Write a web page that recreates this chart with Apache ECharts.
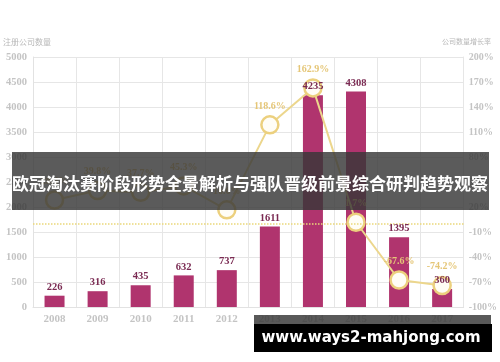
<!DOCTYPE html>
<html><head><meta charset="utf-8">
<script src="https://cdn.jsdelivr.net/npm/echarts@6/dist/echarts.min.js"></script>
<style>html,body{margin:0;padding:0;background:#fff}#c{width:500px;height:362px}</style>
</head><body><div id="c"></div>
<script>
const years = ['2008','2009','2010','2011','2012','2013','2014','2015','2016','2017'];
const companyCounts = [226, 316, 435, 632, 737, 1611, 4235, 4308, 1395, 360];
const growthRates = [28.4, 39.8, 37.7, 45.3, 16.6, 118.6, 162.9, 1.7, -67.6, -74.2];
const leftTitle = '注册公司数量';
const rightTitle = '公司数量增长率';
const bannerText = '欧冠淘汰赛阶段形势全景解析与强队晋级前景综合研判趋势观察';
const watermark = 'www.ways2-mahjong.com';

const chart = echarts.init(document.getElementById('c'));
const serif = 'Liberation Serif';
const barLabel = {show: true, position: 'top', distance: 3, color: '#7a2a52', fontFamily: serif, fontSize: 10.5, fontWeight: 'bold'};
chart.setOption({
  animation: false,
  backgroundColor: '#fff',
  grid: {left: 33, right: 36, top: 57, bottom: 55},
  xAxis: {
    type: 'category', data: years,
    axisLine: {lineStyle: {color: '#e2e2e2'}},
    axisTick: {show: false},
    axisLabel: {color: '#c4c4c4', fontFamily: serif, fontSize: 11, fontWeight: 'bold', margin: 7},
    splitLine: {show: true, lineStyle: {color: '#e6e6e6'}}
  },
  yAxis: [{
    type: 'value', min: 0, max: 5000, interval: 500,
    axisLine: {show: true, lineStyle: {color: '#e2e2e2'}},
    axisTick: {show: false},
    axisLabel: {color: '#c4c4c4', fontFamily: serif, fontSize: 10.5, fontWeight: 'bold', margin: 6, formatter: v => String(v)},
    splitLine: {lineStyle: {color: '#e6e6e6'}}
  }, {
    type: 'value', min: -100, max: 200, interval: 30,
    axisLine: {show: true, lineStyle: {color: '#e6e6e6'}},
    axisTick: {show: false},
    axisLabel: {color: '#c4c4c4', fontFamily: serif, fontSize: 10, fontWeight: 'bold', margin: 5, formatter: '{value}%'},
    splitLine: {show: false}
  }],
  series: [{
    type: 'bar', data: companyCounts, barWidth: 20,
    itemStyle: {color: '#b0346e'},
    z: 2
  }, {
    type: 'line', yAxisIndex: 1, data: growthRates,
    symbol: 'circle', symbolSize: 17,
    lineStyle: {color: '#ecd68c', width: 2},
    itemStyle: {color: '#fffdf6', borderColor: '#ecd07e', borderWidth: 2.5},
    label: {show: true, position: 'top', distance: 4, color: '#e5c677', fontFamily: serif, fontSize: 10, fontWeight: 'bold', formatter: p => p.value + '%'},
    markLine: {
      silent: true, symbol: 'none', label: {show: false},
      lineStyle: {color: '#ead77a', type: 'dotted', width: 1.5},
      data: [{yAxis: 0}]
    },
    z: 3
  }, {
    type: 'bar', data: companyCounts, barWidth: 20, barGap: '-100%', silent: true,
    itemStyle: {color: 'rgba(0,0,0,0)'},
    label: barLabel,
    z: 5
  }],
  graphic: [
    {type: 'text', left: 3, top: 38, style: {text: leftTitle, fill: '#b8b8b8', font: '8px "Noto Sans CJK SC"'}},
    {type: 'text', right: 9, top: 38, style: {text: rightTitle, fill: '#b8b8b8', font: '7px "Noto Sans CJK SC"'}},
    {type: 'rect', shape: {x: 12, y: 152, width: 477, height: 58}, style: {fill: 'rgba(55,55,55,0.82)'}, z: 100},
    {type: 'text', x: 250, y: 184, style: {text: bannerText, fill: '#fff', font: 'bold 17px "Noto Sans CJK SC"', align: 'center', verticalAlign: 'middle'}, z: 101},
    {type: 'rect', shape: {x: 254, y: 315, width: 237, height: 9}, style: {fill: 'rgba(60,60,60,0.85)'}, z: 100},
    {type: 'rect', shape: {x: 254, y: 324, width: 238, height: 28}, style: {fill: '#000'}, z: 100},
    {type: 'text', x: 371, y: 338, style: {text: watermark, fill: '#fff', font: 'bold 15px "DejaVu Sans"', align: 'center', verticalAlign: 'middle'}, z: 101}
  ]
});
</script></body></html>
